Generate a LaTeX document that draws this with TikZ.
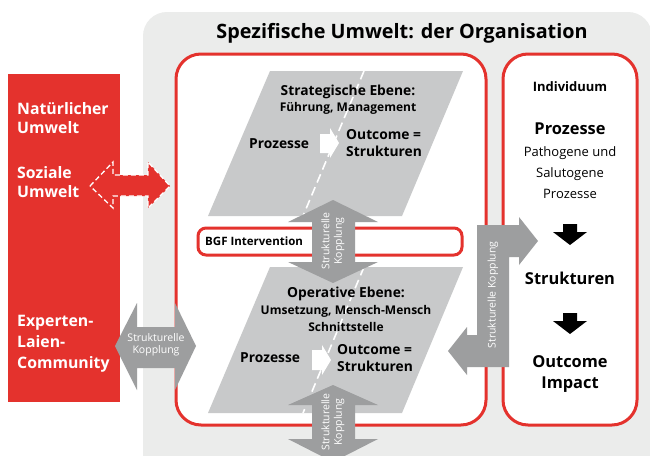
\documentclass[tikz,border=0pt]{standalone}
\usepackage{fontspec}
\setmainfont{Open Sans}
\definecolor{rd}{RGB}{228,50,45}
\definecolor{bgc}{RGB}{235,236,235}
\definecolor{pgc}{RGB}{200,201,202}
\definecolor{agc}{RGB}{157,158,159}
\newcommand{\fs}[1]{\fontsize{#1}{#1}\selectfont}
\begin{document}
\begin{tikzpicture}[x=1pt,y=-1pt,
  redframe/.style={draw=rd, line width=3pt, fill=white, rounded corners=25pt},
  graya/.style={fill=agc},
  para/.style={fill=pgc},
  dline/.style={draw=white, line width=1.6pt, dash pattern=on 9pt off 5pt},
  wtxt/.style={text=white, font=\bfseries\fs{15.8}, align=left, anchor=west, inner sep=0pt},
  ktxt/.style={text=white, font=\fs{10.5}, align=center, inner sep=0pt},
  btxt/.style={font=\bfseries\fs{13.8}, align=center, inner sep=0pt},
  stxt/.style={font=\bfseries\fs{12}, align=center, inner sep=0pt},
  rtxt/.style={font=\bfseries\fs{16.4}, align=center, inner sep=0pt},
  ]
\useasboundingbox (0,0) rectangle (650,455);
\clip (0,0) rectangle (650,455);
\fill[white] (0,0) rectangle (650,455);
% gray background
\fill[bgc, rounded corners=24pt] (143,12) rectangle (652,480);
\node[font=\bfseries\fs{19.8}, inner sep=0pt] (title) at (402,33) {Spezifische Umwelt: der Organisation};
% left red box
\node[fill=rd, minimum width=112pt, minimum height=328pt, anchor=north west, inner sep=0pt] (env) at (8,74) {};
% dashed red double arrow
\filldraw[fill=rd, draw=white, line width=1.3pt, dash pattern=on 5pt off 3pt]
  (90,186) -- (113,162) -- (113,175) -- (148,175) -- (148,162) -- (170,186)
  -- (148,208) -- (148,196) -- (113,196) -- (113,208) -- cycle;
\node[wtxt] (nat) at (17,118) {Natürlicher\\[4pt]Umwelt};
\node[wtxt] (soz) at (17,182) {Soziale\\[4pt]Umwelt};
\node[wtxt] (exp) at (17,344) {Experten-\\[5pt]Laien-\\[5pt]Community};
% organisation frame and individual frame
\draw[redframe] (176,54) rectangle (486,425);
\coordinate (org) at (331,240);
\draw[redframe] (503,54) rectangle (637,425);
\coordinate (ind) at (570,240);
% top parallelogram
\fill[para] (270,71) -- (463,71) -- (402,216) -- (208,216) -- cycle;
\draw[dline] (364,71) -- (303,216);
% white arrow top
\fill[white] (320,134) -- (330,134) -- (330,128) -- (339,143) -- (330,158) -- (330,153) -- (320,153) -- cycle;
\node[btxt] (strat) at (348,92) {Strategische Ebene:};
\node[stxt] (fm) at (348,108) {Führung, Management};
\node[btxt, anchor=west] (proz1) at (249,144) {Prozesse};
\node[btxt, anchor=west, align=left] (out1) at (346,143) {Outcome =\\[4pt]Strukturen};
% lower parallelogram
\fill[para] (270,267) -- (463,267) -- (402,413) -- (208,413) -- cycle;
\draw[dline] (364,267) -- (303,413);
\fill[white] (312,350) -- (322,350) -- (322,345) -- (331,360) -- (322,375) -- (322,370) -- (312,370) -- cycle;
\node[btxt] (oper) at (346,294) {Operative Ebene:};
\node[stxt] (ums) at (346,311) {Umsetzung, Mensch-Mensch};
\node[stxt] (schn) at (346,327) {Schnittstelle};
\node[btxt, anchor=west] (proz2) at (240,358) {Prozesse};
\node[btxt, anchor=west, align=left] (out2) at (337,358) {Outcome =\\[4pt]Strukturen};
% BGF box
\draw[draw=rd, line width=3pt, fill=white, rounded corners=8pt] (198,228) rectangle (462,255);
\node[font=\bfseries\fs{11.5}, anchor=west, inner sep=0pt] (bgf) at (205,241) {BGF Intervention};
% vertical gray double arrows
\fill[graya] (333,200) -- (378,222) -- (355,222) -- (355,262) -- (378,262) -- (333,283)
  -- (288,262) -- (312,262) -- (312,222) -- (288,222) -- cycle;
\node[ktxt, rotate=90] (k1) at (333,241) {Strukturelle\\[2pt]Kopplung};
\fill[graya] (333,385) -- (378,405) -- (355,405) -- (355,439) -- (378,439) -- (333,462)
  -- (288,439) -- (312,439) -- (312,405) -- (288,405) -- cycle;
\node[ktxt, rotate=90] (k2) at (333,422) {Strukturelle\\[2pt]Kopplung};
% left horizontal gray double arrow
\fill[graya] (115,346) -- (137,303) -- (137,327) -- (175,327) -- (175,303) -- (196,346)
  -- (175,390) -- (175,368) -- (137,368) -- (137,390) -- cycle;
\node[ktxt] (k3) at (156,345) {Strukturelle\\[2pt]Kopplung};
% right L-shaped arrow
\fill[graya] (477,225) -- (519,225) -- (519,217) -- (538,241) -- (519,265) -- (519,257)
  -- (509,257) -- (509,367) -- (467,367) -- (467,375) -- (448,351) -- (467,327)
  -- (467,335) -- (477,335) -- cycle;
\node[ktxt, rotate=90] (k4) at (493,295) {Strukturelle Kopplung};
% individual texts
\node[font=\bfseries\fs{13}, inner sep=0pt] (indiv) at (570,87) {Individuum};
\node[rtxt] (rp) at (570,129) {Prozesse};
\node[font=\fs{13}, align=center, inner sep=0pt] (path) at (570,173) {Pathogene und\\[8pt]Salutogene\\[8pt]Prozesse};
\fill[black] (563,224) -- (577,224) -- (577,232) -- (587,232) -- (570,245) -- (553,232) -- (563,232) -- cycle;
\node[rtxt] (rs) at (570,278) {Strukturen};
\fill[black] (563,313) -- (577,313) -- (577,321) -- (587,321) -- (570,334) -- (553,321) -- (563,321) -- cycle;
\node[rtxt] (ro) at (570,374) {Outcome\\[5pt]Impact};
\end{tikzpicture}
\end{document}
